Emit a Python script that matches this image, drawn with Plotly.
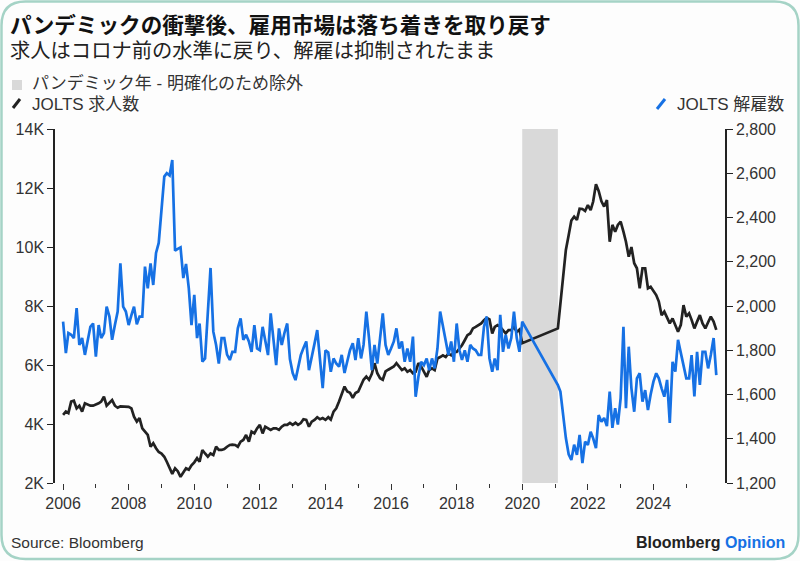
import pandas as pd
import plotly.graph_objects as go

# ---------------- data ----------------
# JOLTS job openings (millions, shown as "K" thousands-of-thousands on left axis), monthly
openings_pre = [
    4.31, 4.42, 4.37, 4.76, 4.79, 4.53, 4.62, 4.42, 4.70, 4.65, 4.62, 4.62,   # 2006
    4.65, 4.70, 4.76, 4.93, 4.62, 4.70, 4.81, 4.62, 4.55, 4.60, 4.60, 4.58,   # 2007
    4.58, 4.53, 4.25, 4.08, 4.20, 3.85, 3.74, 3.63, 3.23, 3.35, 3.18, 3.05,   # 2008
    3.00, 2.89, 2.72, 2.50, 2.31, 2.50, 2.40, 2.21, 2.38, 2.50, 2.45, 2.60,   # 2009
    2.70, 2.84, 2.72, 3.12, 3.00, 2.89, 3.00, 2.95, 3.23, 3.12, 3.12, 3.15,   # 2010
    3.23, 3.29, 3.30, 3.29, 3.23, 3.40, 3.46, 3.63, 3.40, 3.74, 3.68, 3.85,   # 2011
    3.97, 3.68, 3.91, 3.85, 3.80, 3.85, 3.85, 3.80, 3.91, 3.97, 3.97, 4.04,   # 2012
    3.97, 4.04, 3.97, 4.03, 4.16, 4.14, 3.91, 4.08, 4.14, 4.23, 4.16, 4.20,   # 2013
    4.14, 4.23, 4.15, 4.42, 4.53, 4.76, 4.98, 5.27, 5.10, 5.06, 4.89, 5.05,   # 2014
    5.10, 5.33, 5.50, 5.61, 5.50, 5.70, 6.06, 5.72, 5.55, 5.50, 5.78, 5.84,   # 2015
    5.89, 5.95, 6.06, 5.95, 5.83, 5.89, 5.77, 5.83, 5.72, 5.77, 6.06, 5.95,   # 2016
    5.77, 5.60, 5.83, 5.89, 5.83, 6.22, 6.27, 6.33, 6.27, 6.39, 6.33, 6.44,   # 2017
    6.44, 6.56, 6.67, 6.84, 7.01, 7.07, 7.24, 7.29, 7.35, 7.41, 7.52, 7.60,   # 2018
    7.55, 7.07, 7.29, 7.35, 7.29, 7.18, 7.07, 7.18, 7.18, 7.29, 7.12, 7.20,   # 2019
    6.74,                                                                     # 2020-01
]
openings_post = [
    7.24, 8.10, 9.20, 9.90, 10.40, 10.90, 11.03, 10.92, 11.30, 11.29, 11.22,  # 2021 Feb-Dec
    11.42, 11.25, 11.54, 12.13, 11.90, 11.55, 11.37, 11.59, 10.18, 10.75, 10.52, 10.75,  # 2022
    10.86, 10.52, 10.18, 9.67, 10.00, 9.45, 9.28, 8.60, 9.28, 9.28, 8.60, 8.65,  # 2023
    8.49, 8.37, 8.15, 7.69, 7.81, 7.58, 7.41, 7.58, 7.36, 7.13, 7.36, 8.03,   # 2024
    7.64, 7.75, 7.53, 7.24, 7.47, 7.69, 7.41, 7.24, 7.45, 7.64, 7.47, 7.19,   # 2025
]
# JOLTS layoffs (thousands), monthly
layoffs_pre = [
    1929, 1787, 1878, 1870, 1855, 1990, 1824, 1855, 1779, 1840, 1906, 1921,  # 2006
    1771, 1914, 1855, 1878, 1997, 1952, 1847, 1914, 1975, 2193, 1997, 1975,  # 2007
    1914, 1959, 1997, 1917, 1952, 1952, 2178, 2080, 2193, 2095, 2240, 2285,  # 2008
    2434, 2585, 2600, 2590, 2660, 2250, 2258, 2265, 2126, 2190, 2080, 1914,  # 2009
    2050, 1855, 1921, 1748, 1763, 1975, 2172, 1884, 1824, 1740, 1855, 1855,  # 2010
    1780, 1756, 1793, 1793, 1899, 1944, 1847, 1870, 1840, 1793, 1914, 1808,  # 2011
    1800, 1906, 1850, 1778, 1967, 1855, 1733, 1899, 1824, 1878, 1921, 1760,  # 2012
    1697, 1665, 1720, 1778, 1810, 1840, 1710, 1763, 1830, 1891, 1763, 1629,  # 2013
    1800, 1790, 1703, 1763, 1740, 1726, 1779, 1697, 1750, 1800, 1832, 1756,  # 2014
    1855, 1763, 1824, 1975, 1855, 1710, 1824, 1740, 1855, 1967, 1824, 1779,  # 2015
    1808, 1840, 1899, 1808, 1840, 1748, 1808, 1748, 1862, 1590, 1680, 1748,  # 2016
    1733, 1763, 1710, 1763, 1718, 1808, 1975, 1914, 1840, 1779, 1840, 1748,  # 2017
    1921, 1800, 1756, 1800, 1748, 1824, 1808, 1800, 1779, 1779, 1906, 1952,  # 2018
    1763, 1703, 1763, 1710, 1960, 1793, 1870, 1808, 1855, 1975, 1855, 1793,  # 2019
    1929,                                                                    # 2020-01
]
layoffs_post = [
    1643, 1613, 1494, 1403, 1330, 1304, 1373, 1327, 1417, 1290, 1387,        # 2021 Feb-Dec
    1372, 1432, 1402, 1357, 1507, 1477, 1494, 1457, 1613, 1449, 1538, 1464,  # 2022
    1584, 1906, 1538, 1816, 1628, 1522, 1673, 1696, 1568, 1620, 1530, 1600,  # 2023
    1658, 1696, 1673, 1628, 1590, 1666, 1471, 1748, 1703, 1847, 1786, 1733,  # 2024
    1673, 1673, 1778, 1591, 1793, 1643, 1793, 1793, 1718, 1779, 1855, 1688,  # 2025
]
pre_start, pre_end = "2006-01-01", "2020-01-01"
post_start, post_end = "2021-02-01", "2025-12-01"
pandemic_start, pandemic_end = "2020-01-01", "2021-02-01"

x_major_years = [2006, 2008, 2010, 2012, 2014, 2016, 2018, 2020, 2022, 2024]
x_minor_years = [2007, 2009, 2011, 2013, 2015, 2017, 2019, 2021, 2023, 2025]
left_ticks = [2, 4, 6, 8, 10, 12, 14]
left_ticktext = ["2K", "4K", "6K", "8K", "10K", "12K", "14K"]
right_ticks = [1200, 1400, 1600, 1800, 2000, 2200, 2400, 2600, 2800]

title = "パンデミックの衝撃後、雇用市場は落ち着きを取り戻す"
subtitle = "求人はコロナ前の水準に戻り、解雇は抑制されたまま"
legend_band = "パンデミック年 - 明確化のため除外"
legend_open = "JOLTS 求人数"
legend_lay = "JOLTS 解雇数"
source = "Source: Bloomberg"

# ---------------- build ----------------
dates = list(pd.date_range(pre_start, pre_end, freq="MS")) + list(
    pd.date_range(post_start, post_end, freq="MS"))
openings = openings_pre + openings_post
layoffs = layoffs_pre + layoffs_post

BLUE = "#1671e4"
BLACK = "#222222"
FONT = "Liberation Sans, Noto Sans CJK JP, sans-serif"
W, H = 800, 561
ML, MR, MT, MB = 55, 75, 129, 78
PW, PH = W - ML - MR, H - MT - MB


def px(xp):
    return (xp - ML) / PW


def py(yp):
    return (H - MB - yp) / PH


fig = go.Figure()
fig.add_trace(go.Scatter(x=dates, y=openings, mode="lines", yaxis="y",
                         line=dict(color=BLACK, width=2.7), showlegend=False))
fig.add_trace(go.Scatter(x=dates, y=layoffs, mode="lines", yaxis="y2",
                         line=dict(color=BLUE, width=2.7), showlegend=False))

shapes = []
# pandemic band
shapes.append(dict(type="rect", xref="x", yref="paper", x0=pandemic_start,
                   x1=pandemic_end, y0=0, y1=1, fillcolor="#d9d9d9",
                   line=dict(width=0), layer="below"))
# rounded frame
x0, y0, x1, y1, r = 1.5, 1.5, 798.5, 559, 24
path = (f"M {px(x0 + r)},{py(y0)} L {px(x1 - r)},{py(y0)} "
        f"Q {px(x1)},{py(y0)} {px(x1)},{py(y0 + r)} "
        f"L {px(x1)},{py(y1 - r)} Q {px(x1)},{py(y1)} {px(x1 - r)},{py(y1)} "
        f"L {px(x0 + r)},{py(y1)} Q {px(x0)},{py(y1)} {px(x0)},{py(y1 - r)} "
        f"L {px(x0)},{py(y0 + r)} Q {px(x0)},{py(y0)} {px(x0 + r)},{py(y0)} Z")
shapes.append(dict(type="path", xref="paper", yref="paper", path=path,
                   line=dict(color="#a5d3c6", width=2.5), layer="above"))
# legend icons
shapes.append(dict(type="rect", xref="paper", yref="paper", x0=px(12), x1=px(22),
                   y0=py(90), y1=py(80), fillcolor="#d9d9d9", line=dict(width=0)))
shapes.append(dict(type="line", xref="paper", yref="paper", x0=px(13), x1=px(20),
                   y0=py(108), y1=py(99), line=dict(color=BLACK, width=3)))
shapes.append(dict(type="line", xref="paper", yref="paper", x0=px(657), x1=px(665),
                   y0=py(109), y1=py(99), line=dict(color=BLUE, width=3)))

ann = []


def text(t, x, y, size, color="#222", anchor="left", bold=False):
    if bold:
        t = f"<b>{t}</b>"
    ann.append(dict(text=t, xref="paper", yref="paper", x=px(x), y=py(y),
                    xanchor=anchor, yanchor="middle", showarrow=False,
                    font=dict(size=size, color=color, family=FONT)))


text(title, 8, 25, 21.6, "#111", bold=True)
text(subtitle, 8, 51, 20.3, "#222")
text(legend_band, 30, 83, 17, "#333")
text(legend_open, 30, 104, 17, "#333")
text(legend_lay, 786, 104, 17, "#333", anchor="right")
text(source, 9, 542, 15.5, "#333")
text("Bloomberg <span style='color:%s'>Opinion</span>" % BLUE, 787, 542, 16,
     "#222", anchor="right", bold=True)

axis_font = dict(size=16, color="#333", family=FONT)
fig.update_layout(
    width=W, height=H,
    margin=dict(l=ML, r=MR, t=MT, b=MB, pad=0),
    paper_bgcolor="#fdfdfd", plot_bgcolor="rgba(0,0,0,0)",
    shapes=shapes, annotations=ann, showlegend=False,
    xaxis=dict(type="date", range=["2005-10-03", "2026-03-08"],
               showgrid=False, zeroline=False, showline=False,
               ticks="outside", ticklen=6, tickwidth=1, tickcolor="#333",
               tickmode="array",
               tickvals=[f"{y}-01-01" for y in x_major_years],
               ticktext=[str(y) for y in x_major_years],
               minor=dict(tickmode="array",
                          tickvals=[f"{y}-01-01" for y in x_minor_years],
                          ticklen=4, tickcolor="#333", ticks="outside"),
               tickfont=axis_font),
    yaxis=dict(range=[2, 14], tickvals=left_ticks, ticktext=left_ticktext,
               showgrid=False, zeroline=False, showline=True, linecolor="#222",
               linewidth=1.5, ticks="outside", ticklen=6, tickcolor="#222",
               tickfont=axis_font),
    yaxis2=dict(range=[1200, 2800], tickvals=right_ticks, tickformat=",",
                overlaying="y", side="right", showgrid=False, zeroline=False,
                showline=True, linecolor="#222", linewidth=1.5,
                ticks="outside", ticklen=6, tickcolor="#222",
                tickfont=axis_font),
)

fig.write_html("out.html")
